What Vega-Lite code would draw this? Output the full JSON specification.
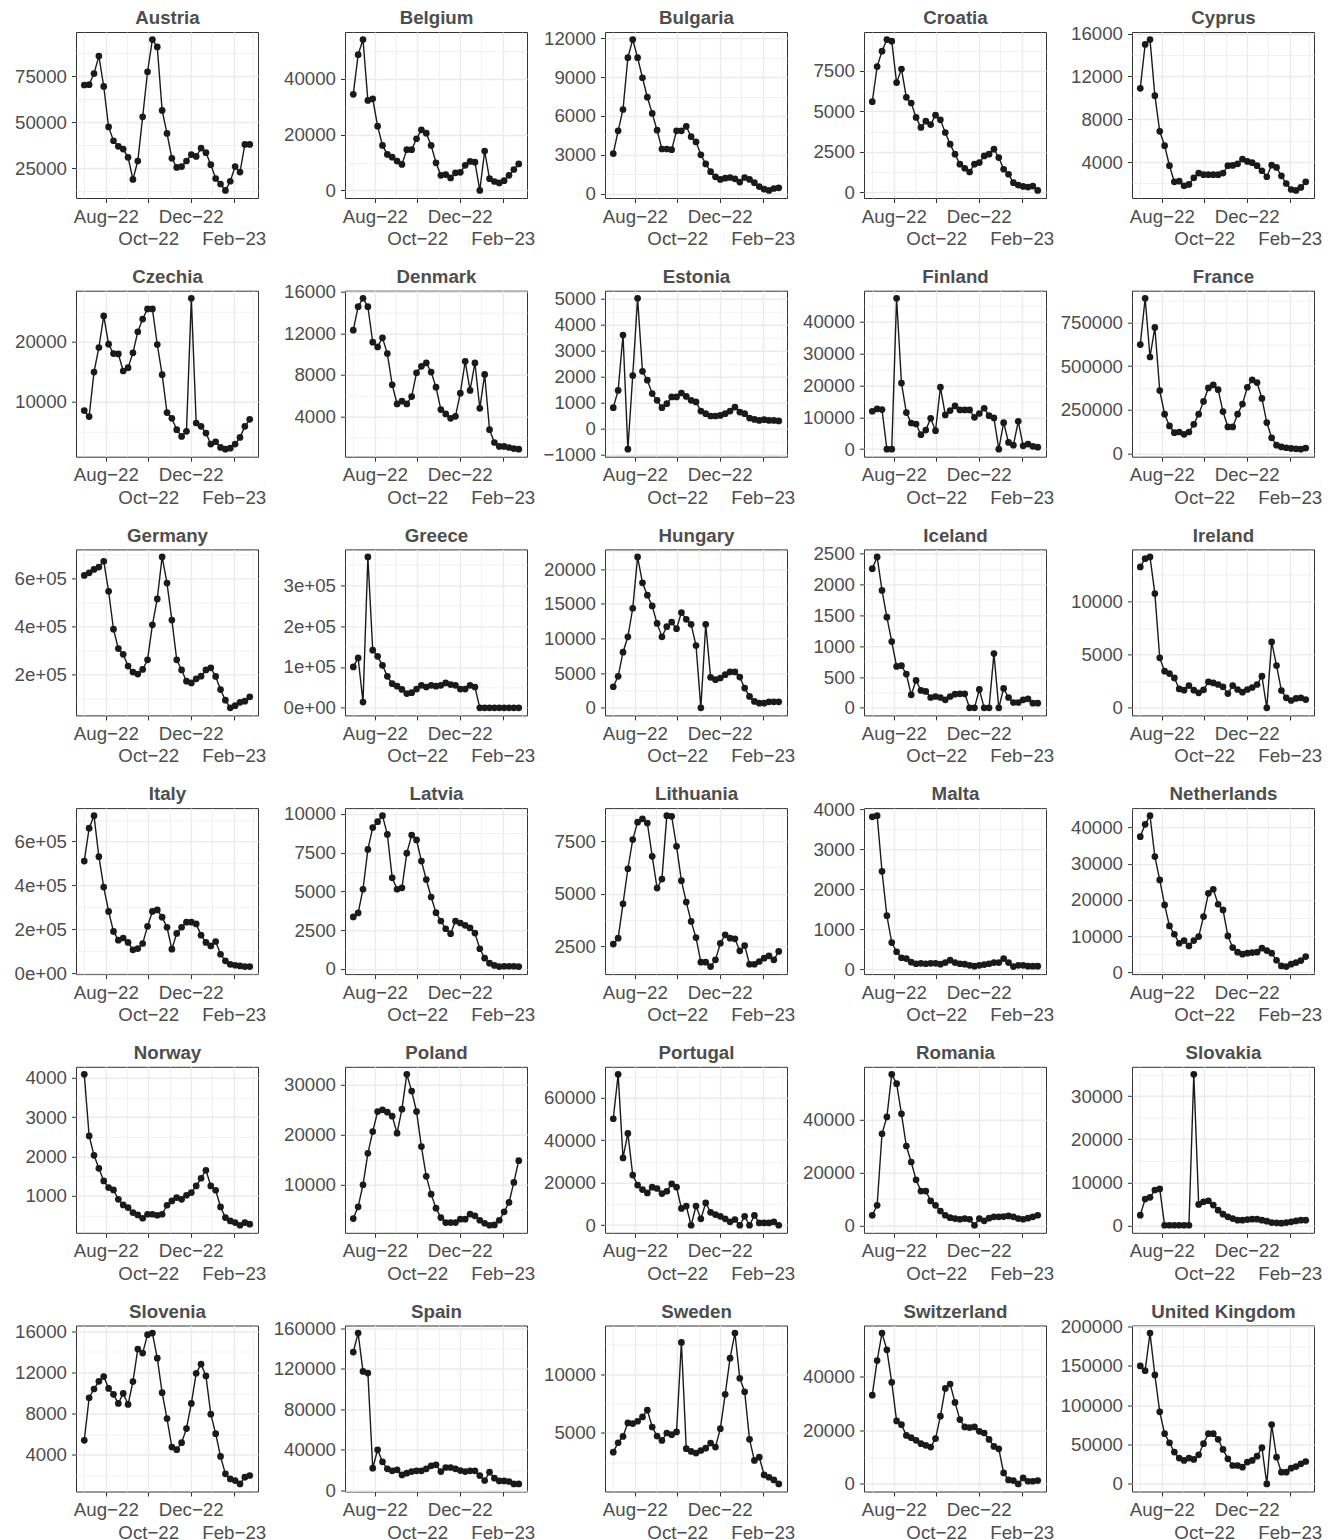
{
"$schema": "https://vega.github.io/schema/vega-lite/v6.json",
"background": "white",
"padding": {"left": 12, "top": 8, "right": 5, "bottom": 0},
"columns": 5,
"align": "each",
"bounds": "full",
"spacing": {"row": 17.7, "column": 3},
"config": {
 "view": {"continuousWidth": 182, "continuousHeight": 166, "stroke": "#333333", "strokeWidth": 1},
 "line": {"color": "#1a1a1a", "strokeWidth": 1.4},
 "point": {"filled": true, "size": 45, "color": "#1a1a1a", "opacity": 1},
 "axis": {"labelFont": "Liberation Sans", "labelFontSize": 18.7, "labelColor": "#4d4d4d", "tickColor": "#333333", "tickSize": 4.5, "domain": false, "gridColor": "#ebebeb", "labelOverlap": false, "labelFlush": false, "labelBound": false},
 "axisY": {"labelPadding": 5},
 "axisTop": {"labels": false, "ticks": false, "domain": false, "grid": false, "minExtent": 0, "maxExtent": 0, "titlePadding": 8.3, "titleBaseline": "alphabetic", "titleFont": "Liberation Sans", "titleFontSize": 18.7, "titleFontWeight": "bold", "titleColor": "#4d4d4d"}
},
"concat": [
{"data":{"values":[{"d":"2022-07-01","v":70300},{"d":"2022-07-08","v":70500},{"d":"2022-07-15","v":76500},{"d":"2022-07-22","v":86000},{"d":"2022-07-29","v":69500},{"d":"2022-08-05","v":47500},{"d":"2022-08-12","v":40000},{"d":"2022-08-19","v":37000},{"d":"2022-08-26","v":35500},{"d":"2022-09-02","v":31000},{"d":"2022-09-09","v":19000},{"d":"2022-09-16","v":29000},{"d":"2022-09-23","v":53000},{"d":"2022-09-30","v":77500},{"d":"2022-10-07","v":95000},{"d":"2022-10-14","v":91000},{"d":"2022-10-21","v":56500},{"d":"2022-10-28","v":44000},{"d":"2022-11-04","v":30500},{"d":"2022-11-11","v":25500},{"d":"2022-11-18","v":26000},{"d":"2022-11-25","v":29000},{"d":"2022-12-02","v":32500},{"d":"2022-12-09","v":31500},{"d":"2022-12-16","v":36000},{"d":"2022-12-23","v":33500},{"d":"2022-12-30","v":27000},{"d":"2023-01-06","v":19500},{"d":"2023-01-13","v":16500},{"d":"2023-01-20","v":13000},{"d":"2023-01-27","v":18000},{"d":"2023-02-03","v":26000},{"d":"2023-02-10","v":23000},{"d":"2023-02-17","v":38000},{"d":"2023-02-24","v":38000}]},
 "encoding":{"y":{"field":"v","type":"quantitative","title":null,"scale":{"zero":false,"nice":false,"padding":7.55},"axis":{"minExtent":63,"maxExtent":63,"values":[12500,25000,37500,50000,62500,75000,87500],"labelExpr":"datum.value%25000!=0?'':format(datum.value,'d')","tickOpacity":{"condition":{"test":"datum.value%25000!=0","value":0},"value":1},"gridWidth":{"condition":{"test":"datum.value%25000!=0","value":0.7},"value":1.4}}}},
 "layer":[{"mark":"line","encoding":{"x":{"field":"d","type":"temporal","title":null,"scale":{"type":"utc","domain":[1655605440000,1678224960000]},"axis":{"orient":"bottom","values":[1656633600000,1659312000000,1661990400000,1664582400000,1667260800000,1669852800000,1672531200000,1675209600000,1677628800000],"labelExpr":"utcmonth(datum.value)%2==0?'':utcFormat(datum.value,'%b')+'−'+utcFormat(datum.value,'%y')","tickOpacity":{"condition":{"test":"utcmonth(datum.value)%2==0","value":0},"value":1},"gridWidth":{"condition":{"test":"utcmonth(datum.value)%2==0","value":0.7},"value":1.4},"labelPadding":{"condition":{"test":"utcmonth(datum.value)==9||utcmonth(datum.value)==1","value":27},"value":4.6}}}}},
  {"mark":"point","encoding":{"x":{"field":"d","type":"temporal","title":"Austria","scale":{"type":"utc","domain":[1655605440000,1678224960000]},"axis":{"orient":"top","grid":false}}}}],
 "resolve":{"axis":{"x":"independent"}}},
{"data":{"values":[{"d":"2022-07-01","v":34400},{"d":"2022-07-08","v":48600},{"d":"2022-07-15","v":54000},{"d":"2022-07-22","v":32200},{"d":"2022-07-29","v":32800},{"d":"2022-08-05","v":23000},{"d":"2022-08-12","v":16100},{"d":"2022-08-19","v":12900},{"d":"2022-08-26","v":11900},{"d":"2022-09-02","v":10500},{"d":"2022-09-09","v":9300},{"d":"2022-09-16","v":14600},{"d":"2022-09-23","v":14600},{"d":"2022-09-30","v":18500},{"d":"2022-10-07","v":21700},{"d":"2022-10-14","v":20500},{"d":"2022-10-21","v":16100},{"d":"2022-10-28","v":9900},{"d":"2022-11-04","v":5400},{"d":"2022-11-11","v":5700},{"d":"2022-11-18","v":4500},{"d":"2022-11-25","v":6300},{"d":"2022-12-02","v":6500},{"d":"2022-12-09","v":9000},{"d":"2022-12-16","v":10400},{"d":"2022-12-23","v":10100},{"d":"2022-12-30","v":0},{"d":"2023-01-06","v":14100},{"d":"2023-01-13","v":4200},{"d":"2023-01-20","v":3200},{"d":"2023-01-27","v":2700},{"d":"2023-02-03","v":3500},{"d":"2023-02-10","v":5400},{"d":"2023-02-17","v":7500},{"d":"2023-02-24","v":9500}]},
 "encoding":{"y":{"field":"v","type":"quantitative","title":null,"scale":{"zero":false,"nice":false,"padding":7.55},"axis":{"minExtent":74,"maxExtent":74,"values":[0,10000,20000,30000,40000,50000],"labelExpr":"datum.value%20000!=0?'':format(datum.value,'d')","tickOpacity":{"condition":{"test":"datum.value%20000!=0","value":0},"value":1},"gridWidth":{"condition":{"test":"datum.value%20000!=0","value":0.7},"value":1.4}}}},
 "layer":[{"mark":"line","encoding":{"x":{"field":"d","type":"temporal","title":null,"scale":{"type":"utc","domain":[1655605440000,1678224960000]},"axis":{"orient":"bottom","values":[1656633600000,1659312000000,1661990400000,1664582400000,1667260800000,1669852800000,1672531200000,1675209600000,1677628800000],"labelExpr":"utcmonth(datum.value)%2==0?'':utcFormat(datum.value,'%b')+'−'+utcFormat(datum.value,'%y')","tickOpacity":{"condition":{"test":"utcmonth(datum.value)%2==0","value":0},"value":1},"gridWidth":{"condition":{"test":"utcmonth(datum.value)%2==0","value":0.7},"value":1.4},"labelPadding":{"condition":{"test":"utcmonth(datum.value)==9||utcmonth(datum.value)==1","value":27},"value":4.6}}}}},
  {"mark":"point","encoding":{"x":{"field":"d","type":"temporal","title":"Belgium","scale":{"type":"utc","domain":[1655605440000,1678224960000]},"axis":{"orient":"top","grid":false}}}}],
 "resolve":{"axis":{"x":"independent"}}},
{"data":{"values":[{"d":"2022-07-01","v":3100},{"d":"2022-07-08","v":4850},{"d":"2022-07-15","v":6500},{"d":"2022-07-22","v":10500},{"d":"2022-07-29","v":11900},{"d":"2022-08-05","v":10500},{"d":"2022-08-12","v":8950},{"d":"2022-08-19","v":7450},{"d":"2022-08-26","v":6200},{"d":"2022-09-02","v":4900},{"d":"2022-09-09","v":3450},{"d":"2022-09-16","v":3450},{"d":"2022-09-23","v":3400},{"d":"2022-09-30","v":4850},{"d":"2022-10-07","v":4850},{"d":"2022-10-14","v":5200},{"d":"2022-10-21","v":4400},{"d":"2022-10-28","v":4000},{"d":"2022-11-04","v":3000},{"d":"2022-11-11","v":2300},{"d":"2022-11-18","v":1700},{"d":"2022-11-25","v":1300},{"d":"2022-12-02","v":1100},{"d":"2022-12-09","v":1200},{"d":"2022-12-16","v":1250},{"d":"2022-12-23","v":1150},{"d":"2022-12-30","v":900},{"d":"2023-01-06","v":1250},{"d":"2023-01-13","v":1100},{"d":"2023-01-20","v":850},{"d":"2023-01-27","v":550},{"d":"2023-02-03","v":350},{"d":"2023-02-10","v":250},{"d":"2023-02-17","v":400},{"d":"2023-02-24","v":450}]},
 "encoding":{"y":{"field":"v","type":"quantitative","title":null,"scale":{"zero":false,"nice":false,"padding":7.55},"axis":{"minExtent":65,"maxExtent":65,"values":[0,1500,3000,4500,6000,7500,9000,10500,12000],"labelExpr":"datum.value%3000!=0?'':format(datum.value,'d')","tickOpacity":{"condition":{"test":"datum.value%3000!=0","value":0},"value":1},"gridWidth":{"condition":{"test":"datum.value%3000!=0","value":0.7},"value":1.4}}}},
 "layer":[{"mark":"line","encoding":{"x":{"field":"d","type":"temporal","title":null,"scale":{"type":"utc","domain":[1655605440000,1678224960000]},"axis":{"orient":"bottom","values":[1656633600000,1659312000000,1661990400000,1664582400000,1667260800000,1669852800000,1672531200000,1675209600000,1677628800000],"labelExpr":"utcmonth(datum.value)%2==0?'':utcFormat(datum.value,'%b')+'−'+utcFormat(datum.value,'%y')","tickOpacity":{"condition":{"test":"utcmonth(datum.value)%2==0","value":0},"value":1},"gridWidth":{"condition":{"test":"utcmonth(datum.value)%2==0","value":0.7},"value":1.4},"labelPadding":{"condition":{"test":"utcmonth(datum.value)==9||utcmonth(datum.value)==1","value":27},"value":4.6}}}}},
  {"mark":"point","encoding":{"x":{"field":"d","type":"temporal","title":"Bulgaria","scale":{"type":"utc","domain":[1655605440000,1678224960000]},"axis":{"orient":"top","grid":false}}}}],
 "resolve":{"axis":{"x":"independent"}}},
{"data":{"values":[{"d":"2022-07-01","v":5600},{"d":"2022-07-08","v":7770},{"d":"2022-07-15","v":8720},{"d":"2022-07-22","v":9440},{"d":"2022-07-29","v":9340},{"d":"2022-08-05","v":6780},{"d":"2022-08-12","v":7620},{"d":"2022-08-19","v":5870},{"d":"2022-08-26","v":5520},{"d":"2022-09-02","v":4630},{"d":"2022-09-09","v":4010},{"d":"2022-09-16","v":4400},{"d":"2022-09-23","v":4190},{"d":"2022-09-30","v":4770},{"d":"2022-10-07","v":4480},{"d":"2022-10-14","v":3700},{"d":"2022-10-21","v":2980},{"d":"2022-10-28","v":2360},{"d":"2022-11-04","v":1740},{"d":"2022-11-11","v":1490},{"d":"2022-11-18","v":1260},{"d":"2022-11-25","v":1740},{"d":"2022-12-02","v":1840},{"d":"2022-12-09","v":2250},{"d":"2022-12-16","v":2360},{"d":"2022-12-23","v":2670},{"d":"2022-12-30","v":2150},{"d":"2023-01-06","v":1430},{"d":"2023-01-13","v":1120},{"d":"2023-01-20","v":600},{"d":"2023-01-27","v":450},{"d":"2023-02-03","v":370},{"d":"2023-02-10","v":330},{"d":"2023-02-17","v":390},{"d":"2023-02-24","v":120}]},
 "encoding":{"y":{"field":"v","type":"quantitative","title":null,"scale":{"zero":false,"nice":false,"padding":7.55},"axis":{"minExtent":64,"maxExtent":64,"values":[0,1250,2500,3750,5000,6250,7500,8750],"labelExpr":"datum.value%2500!=0?'':format(datum.value,'d')","tickOpacity":{"condition":{"test":"datum.value%2500!=0","value":0},"value":1},"gridWidth":{"condition":{"test":"datum.value%2500!=0","value":0.7},"value":1.4}}}},
 "layer":[{"mark":"line","encoding":{"x":{"field":"d","type":"temporal","title":null,"scale":{"type":"utc","domain":[1655605440000,1678224960000]},"axis":{"orient":"bottom","values":[1656633600000,1659312000000,1661990400000,1664582400000,1667260800000,1669852800000,1672531200000,1675209600000,1677628800000],"labelExpr":"utcmonth(datum.value)%2==0?'':utcFormat(datum.value,'%b')+'−'+utcFormat(datum.value,'%y')","tickOpacity":{"condition":{"test":"utcmonth(datum.value)%2==0","value":0},"value":1},"gridWidth":{"condition":{"test":"utcmonth(datum.value)%2==0","value":0.7},"value":1.4},"labelPadding":{"condition":{"test":"utcmonth(datum.value)==9||utcmonth(datum.value)==1","value":27},"value":4.6}}}}},
  {"mark":"point","encoding":{"x":{"field":"d","type":"temporal","title":"Croatia","scale":{"type":"utc","domain":[1655605440000,1678224960000]},"axis":{"orient":"top","grid":false}}}}],
 "resolve":{"axis":{"x":"independent"}}},
{"data":{"values":[{"d":"2022-07-01","v":10890},{"d":"2022-07-08","v":14980},{"d":"2022-07-15","v":15440},{"d":"2022-07-22","v":10200},{"d":"2022-07-29","v":6870},{"d":"2022-08-05","v":5530},{"d":"2022-08-12","v":3660},{"d":"2022-08-19","v":2160},{"d":"2022-08-26","v":2220},{"d":"2022-09-02","v":1790},{"d":"2022-09-09","v":1910},{"d":"2022-09-16","v":2530},{"d":"2022-09-23","v":2970},{"d":"2022-09-30","v":2820},{"d":"2022-10-07","v":2820},{"d":"2022-10-14","v":2820},{"d":"2022-10-21","v":2820},{"d":"2022-10-28","v":2970},{"d":"2022-11-04","v":3660},{"d":"2022-11-11","v":3690},{"d":"2022-11-18","v":3840},{"d":"2022-11-25","v":4280},{"d":"2022-12-02","v":4060},{"d":"2022-12-09","v":3940},{"d":"2022-12-16","v":3660},{"d":"2022-12-23","v":3190},{"d":"2022-12-30","v":2630},{"d":"2023-01-06","v":3720},{"d":"2023-01-13","v":3500},{"d":"2023-01-20","v":2720},{"d":"2023-01-27","v":2000},{"d":"2023-02-03","v":1440},{"d":"2023-02-10","v":1350},{"d":"2023-02-17","v":1630},{"d":"2023-02-24","v":2160}]},
 "encoding":{"y":{"field":"v","type":"quantitative","title":null,"scale":{"zero":false,"nice":false,"padding":7.55},"axis":{"minExtent":73,"maxExtent":73,"values":[2000,4000,6000,8000,10000,12000,14000,16000],"labelExpr":"datum.value%4000!=0?'':format(datum.value,'d')","tickOpacity":{"condition":{"test":"datum.value%4000!=0","value":0},"value":1},"gridWidth":{"condition":{"test":"datum.value%4000!=0","value":0.7},"value":1.4}}}},
 "layer":[{"mark":"line","encoding":{"x":{"field":"d","type":"temporal","title":null,"scale":{"type":"utc","domain":[1655605440000,1678224960000]},"axis":{"orient":"bottom","values":[1656633600000,1659312000000,1661990400000,1664582400000,1667260800000,1669852800000,1672531200000,1675209600000,1677628800000],"labelExpr":"utcmonth(datum.value)%2==0?'':utcFormat(datum.value,'%b')+'−'+utcFormat(datum.value,'%y')","tickOpacity":{"condition":{"test":"utcmonth(datum.value)%2==0","value":0},"value":1},"gridWidth":{"condition":{"test":"utcmonth(datum.value)%2==0","value":0.7},"value":1.4},"labelPadding":{"condition":{"test":"utcmonth(datum.value)==9||utcmonth(datum.value)==1","value":27},"value":4.6}}}}},
  {"mark":"point","encoding":{"x":{"field":"d","type":"temporal","title":"Cyprus","scale":{"type":"utc","domain":[1655605440000,1678224960000]},"axis":{"orient":"top","grid":false}}}}],
 "resolve":{"axis":{"x":"independent"}}},
{"data":{"values":[{"d":"2022-07-01","v":8480},{"d":"2022-07-08","v":7470},{"d":"2022-07-15","v":14940},{"d":"2022-07-22","v":19050},{"d":"2022-07-29","v":24330},{"d":"2022-08-05","v":19600},{"d":"2022-08-12","v":18030},{"d":"2022-08-19","v":17980},{"d":"2022-08-26","v":15110},{"d":"2022-09-02","v":15670},{"d":"2022-09-09","v":18150},{"d":"2022-09-16","v":21690},{"d":"2022-09-23","v":23820},{"d":"2022-09-30","v":25510},{"d":"2022-10-07","v":25510},{"d":"2022-10-14","v":19550},{"d":"2022-10-21","v":14490},{"d":"2022-10-28","v":8150},{"d":"2022-11-04","v":7190},{"d":"2022-11-11","v":5280},{"d":"2022-11-18","v":4160},{"d":"2022-11-25","v":5000},{"d":"2022-12-02","v":27300},{"d":"2022-12-09","v":6400},{"d":"2022-12-16","v":5840},{"d":"2022-12-23","v":4720},{"d":"2022-12-30","v":2870},{"d":"2023-01-06","v":3260},{"d":"2023-01-13","v":2300},{"d":"2023-01-20","v":2020},{"d":"2023-01-27","v":2190},{"d":"2023-02-03","v":2870},{"d":"2023-02-10","v":3990},{"d":"2023-02-17","v":5840},{"d":"2023-02-24","v":7020}]},
 "encoding":{"y":{"field":"v","type":"quantitative","title":null,"scale":{"zero":false,"nice":false,"padding":7.55},"axis":{"minExtent":63,"maxExtent":63,"values":[5000,10000,15000,20000,25000],"labelExpr":"datum.value%10000!=0?'':format(datum.value,'d')","tickOpacity":{"condition":{"test":"datum.value%10000!=0","value":0},"value":1},"gridWidth":{"condition":{"test":"datum.value%10000!=0","value":0.7},"value":1.4}}}},
 "layer":[{"mark":"line","encoding":{"x":{"field":"d","type":"temporal","title":null,"scale":{"type":"utc","domain":[1655605440000,1678224960000]},"axis":{"orient":"bottom","values":[1656633600000,1659312000000,1661990400000,1664582400000,1667260800000,1669852800000,1672531200000,1675209600000,1677628800000],"labelExpr":"utcmonth(datum.value)%2==0?'':utcFormat(datum.value,'%b')+'−'+utcFormat(datum.value,'%y')","tickOpacity":{"condition":{"test":"utcmonth(datum.value)%2==0","value":0},"value":1},"gridWidth":{"condition":{"test":"utcmonth(datum.value)%2==0","value":0.7},"value":1.4},"labelPadding":{"condition":{"test":"utcmonth(datum.value)==9||utcmonth(datum.value)==1","value":27},"value":4.6}}}}},
  {"mark":"point","encoding":{"x":{"field":"d","type":"temporal","title":"Czechia","scale":{"type":"utc","domain":[1655605440000,1678224960000]},"axis":{"orient":"top","grid":false}}}}],
 "resolve":{"axis":{"x":"independent"}}},
{"data":{"values":[{"d":"2022-07-01","v":12300},{"d":"2022-07-08","v":14550},{"d":"2022-07-15","v":15360},{"d":"2022-07-22","v":14550},{"d":"2022-07-29","v":11140},{"d":"2022-08-05","v":10690},{"d":"2022-08-12","v":11560},{"d":"2022-08-19","v":10050},{"d":"2022-08-26","v":7060},{"d":"2022-09-02","v":5220},{"d":"2022-09-09","v":5480},{"d":"2022-09-16","v":5220},{"d":"2022-09-23","v":5930},{"d":"2022-09-30","v":8210},{"d":"2022-10-07","v":8830},{"d":"2022-10-14","v":9150},{"d":"2022-10-21","v":8280},{"d":"2022-10-28","v":6830},{"d":"2022-11-04","v":4680},{"d":"2022-11-11","v":4260},{"d":"2022-11-18","v":3840},{"d":"2022-11-25","v":4030},{"d":"2022-12-02","v":6250},{"d":"2022-12-09","v":9310},{"d":"2022-12-16","v":6510},{"d":"2022-12-23","v":9150},{"d":"2022-12-30","v":4800},{"d":"2023-01-06","v":8050},{"d":"2023-01-13","v":2750},{"d":"2023-01-20","v":1520},{"d":"2023-01-27","v":1140},{"d":"2023-02-03","v":1140},{"d":"2023-02-10","v":1040},{"d":"2023-02-17","v":940},{"d":"2023-02-24","v":880}]},
 "encoding":{"y":{"field":"v","type":"quantitative","title":null,"scale":{"zero":false,"nice":false,"padding":7.55},"axis":{"minExtent":74,"maxExtent":74,"values":[2000,4000,6000,8000,10000,12000,14000,16000],"labelExpr":"datum.value%4000!=0?'':format(datum.value,'d')","tickOpacity":{"condition":{"test":"datum.value%4000!=0","value":0},"value":1},"gridWidth":{"condition":{"test":"datum.value%4000!=0","value":0.7},"value":1.4}}}},
 "layer":[{"mark":"line","encoding":{"x":{"field":"d","type":"temporal","title":null,"scale":{"type":"utc","domain":[1655605440000,1678224960000]},"axis":{"orient":"bottom","values":[1656633600000,1659312000000,1661990400000,1664582400000,1667260800000,1669852800000,1672531200000,1675209600000,1677628800000],"labelExpr":"utcmonth(datum.value)%2==0?'':utcFormat(datum.value,'%b')+'−'+utcFormat(datum.value,'%y')","tickOpacity":{"condition":{"test":"utcmonth(datum.value)%2==0","value":0},"value":1},"gridWidth":{"condition":{"test":"utcmonth(datum.value)%2==0","value":0.7},"value":1.4},"labelPadding":{"condition":{"test":"utcmonth(datum.value)==9||utcmonth(datum.value)==1","value":27},"value":4.6}}}}},
  {"mark":"point","encoding":{"x":{"field":"d","type":"temporal","title":"Denmark","scale":{"type":"utc","domain":[1655605440000,1678224960000]},"axis":{"orient":"top","grid":false}}}}],
 "resolve":{"axis":{"x":"independent"}}},
{"data":{"values":[{"d":"2022-07-01","v":810},{"d":"2022-07-08","v":1470},{"d":"2022-07-15","v":3590},{"d":"2022-07-22","v":-780},{"d":"2022-07-29","v":2040},{"d":"2022-08-05","v":5000},{"d":"2022-08-12","v":2200},{"d":"2022-08-19","v":1860},{"d":"2022-08-26","v":1350},{"d":"2022-09-02","v":1090},{"d":"2022-09-09","v":810},{"d":"2022-09-16","v":960},{"d":"2022-09-23","v":1220},{"d":"2022-09-30","v":1220},{"d":"2022-10-07","v":1370},{"d":"2022-10-14","v":1240},{"d":"2022-10-21","v":1090},{"d":"2022-10-28","v":1030},{"d":"2022-11-04","v":680},{"d":"2022-11-11","v":580},{"d":"2022-11-18","v":490},{"d":"2022-11-25","v":490},{"d":"2022-12-02","v":510},{"d":"2022-12-09","v":580},{"d":"2022-12-16","v":680},{"d":"2022-12-23","v":830},{"d":"2022-12-30","v":640},{"d":"2023-01-06","v":580},{"d":"2023-01-13","v":410},{"d":"2023-01-20","v":360},{"d":"2023-01-27","v":320},{"d":"2023-02-03","v":350},{"d":"2023-02-10","v":320},{"d":"2023-02-17","v":320},{"d":"2023-02-24","v":300}]},
 "encoding":{"y":{"field":"v","type":"quantitative","title":null,"scale":{"zero":false,"nice":false,"padding":7.55},"axis":{"minExtent":65,"maxExtent":65,"values":[-1000,-500,0,500,1000,1500,2000,2500,3000,3500,4000,4500,5000],"labelExpr":"datum.value%1000!=0?'':format(datum.value,'d')","tickOpacity":{"condition":{"test":"datum.value%1000!=0","value":0},"value":1},"gridWidth":{"condition":{"test":"datum.value%1000!=0","value":0.7},"value":1.4}}}},
 "layer":[{"mark":"line","encoding":{"x":{"field":"d","type":"temporal","title":null,"scale":{"type":"utc","domain":[1655605440000,1678224960000]},"axis":{"orient":"bottom","values":[1656633600000,1659312000000,1661990400000,1664582400000,1667260800000,1669852800000,1672531200000,1675209600000,1677628800000],"labelExpr":"utcmonth(datum.value)%2==0?'':utcFormat(datum.value,'%b')+'−'+utcFormat(datum.value,'%y')","tickOpacity":{"condition":{"test":"utcmonth(datum.value)%2==0","value":0},"value":1},"gridWidth":{"condition":{"test":"utcmonth(datum.value)%2==0","value":0.7},"value":1.4},"labelPadding":{"condition":{"test":"utcmonth(datum.value)==9||utcmonth(datum.value)==1","value":27},"value":4.6}}}}},
  {"mark":"point","encoding":{"x":{"field":"d","type":"temporal","title":"Estonia","scale":{"type":"utc","domain":[1655605440000,1678224960000]},"axis":{"orient":"top","grid":false}}}}],
 "resolve":{"axis":{"x":"independent"}}},
{"data":{"values":[{"d":"2022-07-01","v":11900},{"d":"2022-07-08","v":12640},{"d":"2022-07-15","v":12430},{"d":"2022-07-22","v":0},{"d":"2022-07-29","v":0},{"d":"2022-08-05","v":47400},{"d":"2022-08-12","v":20740},{"d":"2022-08-19","v":11480},{"d":"2022-08-26","v":8210},{"d":"2022-09-02","v":7900},{"d":"2022-09-09","v":4530},{"d":"2022-09-16","v":6000},{"d":"2022-09-23","v":9690},{"d":"2022-09-30","v":5790},{"d":"2022-10-07","v":19480},{"d":"2022-10-14","v":10740},{"d":"2022-10-21","v":12110},{"d":"2022-10-28","v":13580},{"d":"2022-11-04","v":12320},{"d":"2022-11-11","v":12320},{"d":"2022-11-18","v":12320},{"d":"2022-11-25","v":10000},{"d":"2022-12-02","v":11200},{"d":"2022-12-09","v":12850},{"d":"2022-12-16","v":10500},{"d":"2022-12-23","v":9800},{"d":"2022-12-30","v":0},{"d":"2023-01-06","v":8320},{"d":"2023-01-13","v":2110},{"d":"2023-01-20","v":1260},{"d":"2023-01-27","v":8740},{"d":"2023-02-03","v":1050},{"d":"2023-02-10","v":1580},{"d":"2023-02-17","v":900},{"d":"2023-02-24","v":630}]},
 "encoding":{"y":{"field":"v","type":"quantitative","title":null,"scale":{"zero":false,"nice":false,"padding":7.55},"axis":{"minExtent":64,"maxExtent":64,"values":[0,5000,10000,15000,20000,25000,30000,35000,40000,45000],"labelExpr":"datum.value%10000!=0?'':format(datum.value,'d')","tickOpacity":{"condition":{"test":"datum.value%10000!=0","value":0},"value":1},"gridWidth":{"condition":{"test":"datum.value%10000!=0","value":0.7},"value":1.4}}}},
 "layer":[{"mark":"line","encoding":{"x":{"field":"d","type":"temporal","title":null,"scale":{"type":"utc","domain":[1655605440000,1678224960000]},"axis":{"orient":"bottom","values":[1656633600000,1659312000000,1661990400000,1664582400000,1667260800000,1669852800000,1672531200000,1675209600000,1677628800000],"labelExpr":"utcmonth(datum.value)%2==0?'':utcFormat(datum.value,'%b')+'−'+utcFormat(datum.value,'%y')","tickOpacity":{"condition":{"test":"utcmonth(datum.value)%2==0","value":0},"value":1},"gridWidth":{"condition":{"test":"utcmonth(datum.value)%2==0","value":0.7},"value":1.4},"labelPadding":{"condition":{"test":"utcmonth(datum.value)==9||utcmonth(datum.value)==1","value":27},"value":4.6}}}}},
  {"mark":"point","encoding":{"x":{"field":"d","type":"temporal","title":"Finland","scale":{"type":"utc","domain":[1655605440000,1678224960000]},"axis":{"orient":"top","grid":false}}}}],
 "resolve":{"axis":{"x":"independent"}}},
{"data":{"values":[{"d":"2022-07-01","v":623000},{"d":"2022-07-08","v":888000},{"d":"2022-07-15","v":552000},{"d":"2022-07-22","v":721000},{"d":"2022-07-29","v":360000},{"d":"2022-08-05","v":225000},{"d":"2022-08-12","v":158000},{"d":"2022-08-19","v":119000},{"d":"2022-08-26","v":123000},{"d":"2022-09-02","v":110000},{"d":"2022-09-09","v":123000},{"d":"2022-09-16","v":167000},{"d":"2022-09-23","v":225000},{"d":"2022-09-30","v":298000},{"d":"2022-10-07","v":375000},{"d":"2022-10-14","v":392000},{"d":"2022-10-21","v":365000},{"d":"2022-10-28","v":240000},{"d":"2022-11-04","v":152000},{"d":"2022-11-11","v":152000},{"d":"2022-11-18","v":225000},{"d":"2022-11-25","v":283000},{"d":"2022-12-02","v":379000},{"d":"2022-12-09","v":421000},{"d":"2022-12-16","v":406000},{"d":"2022-12-23","v":315000},{"d":"2022-12-30","v":177000},{"d":"2023-01-06","v":90000},{"d":"2023-01-13","v":48000},{"d":"2023-01-20","v":38000},{"d":"2023-01-27","v":33000},{"d":"2023-02-03","v":29000},{"d":"2023-02-10","v":27000},{"d":"2023-02-17","v":25000},{"d":"2023-02-24","v":31000}]},
 "encoding":{"y":{"field":"v","type":"quantitative","title":null,"scale":{"zero":false,"nice":false,"padding":7.55},"axis":{"minExtent":73,"maxExtent":73,"values":[0,125000,250000,375000,500000,625000,750000,875000],"labelExpr":"datum.value%250000!=0?'':format(datum.value,'d')","tickOpacity":{"condition":{"test":"datum.value%250000!=0","value":0},"value":1},"gridWidth":{"condition":{"test":"datum.value%250000!=0","value":0.7},"value":1.4}}}},
 "layer":[{"mark":"line","encoding":{"x":{"field":"d","type":"temporal","title":null,"scale":{"type":"utc","domain":[1655605440000,1678224960000]},"axis":{"orient":"bottom","values":[1656633600000,1659312000000,1661990400000,1664582400000,1667260800000,1669852800000,1672531200000,1675209600000,1677628800000],"labelExpr":"utcmonth(datum.value)%2==0?'':utcFormat(datum.value,'%b')+'−'+utcFormat(datum.value,'%y')","tickOpacity":{"condition":{"test":"utcmonth(datum.value)%2==0","value":0},"value":1},"gridWidth":{"condition":{"test":"utcmonth(datum.value)%2==0","value":0.7},"value":1.4},"labelPadding":{"condition":{"test":"utcmonth(datum.value)==9||utcmonth(datum.value)==1","value":27},"value":4.6}}}}},
  {"mark":"point","encoding":{"x":{"field":"d","type":"temporal","title":"France","scale":{"type":"utc","domain":[1655605440000,1678224960000]},"axis":{"orient":"top","grid":false}}}}],
 "resolve":{"axis":{"x":"independent"}}},
{"data":{"values":[{"d":"2022-07-01","v":614000},{"d":"2022-07-08","v":625000},{"d":"2022-07-15","v":639000},{"d":"2022-07-22","v":649000},{"d":"2022-07-29","v":673000},{"d":"2022-08-05","v":548000},{"d":"2022-08-12","v":390000},{"d":"2022-08-19","v":309000},{"d":"2022-08-26","v":285000},{"d":"2022-09-02","v":236000},{"d":"2022-09-09","v":211000},{"d":"2022-09-16","v":203000},{"d":"2022-09-23","v":222000},{"d":"2022-09-30","v":262000},{"d":"2022-10-07","v":408000},{"d":"2022-10-14","v":516000},{"d":"2022-10-21","v":691000},{"d":"2022-10-28","v":582000},{"d":"2022-11-04","v":428000},{"d":"2022-11-11","v":262000},{"d":"2022-11-18","v":220000},{"d":"2022-11-25","v":173000},{"d":"2022-12-02","v":166000},{"d":"2022-12-09","v":183000},{"d":"2022-12-16","v":194000},{"d":"2022-12-23","v":220000},{"d":"2022-12-30","v":229000},{"d":"2023-01-06","v":193000},{"d":"2023-01-13","v":138000},{"d":"2023-01-20","v":94000},{"d":"2023-01-27","v":62000},{"d":"2023-02-03","v":71000},{"d":"2023-02-10","v":85000},{"d":"2023-02-17","v":90000},{"d":"2023-02-24","v":108000}]},
 "encoding":{"y":{"field":"v","type":"quantitative","title":null,"scale":{"zero":false,"nice":false,"padding":7.55},"axis":{"minExtent":63,"maxExtent":63,"values":[100000,200000,300000,400000,500000,600000,700000],"labelExpr":"datum.value%200000!=0?'':replace(format(datum.value,'.0e'),'e+','e+0')","tickOpacity":{"condition":{"test":"datum.value%200000!=0","value":0},"value":1},"gridWidth":{"condition":{"test":"datum.value%200000!=0","value":0.7},"value":1.4}}}},
 "layer":[{"mark":"line","encoding":{"x":{"field":"d","type":"temporal","title":null,"scale":{"type":"utc","domain":[1655605440000,1678224960000]},"axis":{"orient":"bottom","values":[1656633600000,1659312000000,1661990400000,1664582400000,1667260800000,1669852800000,1672531200000,1675209600000,1677628800000],"labelExpr":"utcmonth(datum.value)%2==0?'':utcFormat(datum.value,'%b')+'−'+utcFormat(datum.value,'%y')","tickOpacity":{"condition":{"test":"utcmonth(datum.value)%2==0","value":0},"value":1},"gridWidth":{"condition":{"test":"utcmonth(datum.value)%2==0","value":0.7},"value":1.4},"labelPadding":{"condition":{"test":"utcmonth(datum.value)==9||utcmonth(datum.value)==1","value":27},"value":4.6}}}}},
  {"mark":"point","encoding":{"x":{"field":"d","type":"temporal","title":"Germany","scale":{"type":"utc","domain":[1655605440000,1678224960000]},"axis":{"orient":"top","grid":false}}}}],
 "resolve":{"axis":{"x":"independent"}}},
{"data":{"values":[{"d":"2022-07-01","v":100000},{"d":"2022-07-08","v":122000},{"d":"2022-07-15","v":14000},{"d":"2022-07-22","v":369000},{"d":"2022-07-29","v":141000},{"d":"2022-08-05","v":126000},{"d":"2022-08-12","v":104000},{"d":"2022-08-19","v":77000},{"d":"2022-08-26","v":59000},{"d":"2022-09-02","v":53000},{"d":"2022-09-09","v":45000},{"d":"2022-09-16","v":35000},{"d":"2022-09-23","v":37000},{"d":"2022-09-30","v":46000},{"d":"2022-10-07","v":55000},{"d":"2022-10-14","v":51000},{"d":"2022-10-21","v":55000},{"d":"2022-10-28","v":53000},{"d":"2022-11-04","v":55000},{"d":"2022-11-11","v":61000},{"d":"2022-11-18","v":57000},{"d":"2022-11-25","v":55000},{"d":"2022-12-02","v":46000},{"d":"2022-12-09","v":46000},{"d":"2022-12-16","v":55000},{"d":"2022-12-23","v":51000},{"d":"2022-12-30","v":0},{"d":"2023-01-06","v":0},{"d":"2023-01-13","v":0},{"d":"2023-01-20","v":0},{"d":"2023-01-27","v":0},{"d":"2023-02-03","v":0},{"d":"2023-02-10","v":0},{"d":"2023-02-17","v":0},{"d":"2023-02-24","v":0}]},
 "encoding":{"y":{"field":"v","type":"quantitative","title":null,"scale":{"zero":false,"nice":false,"padding":7.55},"axis":{"minExtent":74,"maxExtent":74,"values":[0,50000,100000,150000,200000,250000,300000,350000],"labelExpr":"datum.value%100000!=0?'':replace(format(datum.value,'.0e'),'e+','e+0')","tickOpacity":{"condition":{"test":"datum.value%100000!=0","value":0},"value":1},"gridWidth":{"condition":{"test":"datum.value%100000!=0","value":0.7},"value":1.4}}}},
 "layer":[{"mark":"line","encoding":{"x":{"field":"d","type":"temporal","title":null,"scale":{"type":"utc","domain":[1655605440000,1678224960000]},"axis":{"orient":"bottom","values":[1656633600000,1659312000000,1661990400000,1664582400000,1667260800000,1669852800000,1672531200000,1675209600000,1677628800000],"labelExpr":"utcmonth(datum.value)%2==0?'':utcFormat(datum.value,'%b')+'−'+utcFormat(datum.value,'%y')","tickOpacity":{"condition":{"test":"utcmonth(datum.value)%2==0","value":0},"value":1},"gridWidth":{"condition":{"test":"utcmonth(datum.value)%2==0","value":0.7},"value":1.4},"labelPadding":{"condition":{"test":"utcmonth(datum.value)==9||utcmonth(datum.value)==1","value":27},"value":4.6}}}}},
  {"mark":"point","encoding":{"x":{"field":"d","type":"temporal","title":"Greece","scale":{"type":"utc","domain":[1655605440000,1678224960000]},"axis":{"orient":"top","grid":false}}}}],
 "resolve":{"axis":{"x":"independent"}}},
{"data":{"values":[{"d":"2022-07-01","v":3040},{"d":"2022-07-08","v":4540},{"d":"2022-07-15","v":8020},{"d":"2022-07-22","v":10240},{"d":"2022-07-29","v":14350},{"d":"2022-08-05","v":21740},{"d":"2022-08-12","v":18020},{"d":"2022-08-19","v":16230},{"d":"2022-08-26","v":14680},{"d":"2022-09-02","v":12170},{"d":"2022-09-09","v":10240},{"d":"2022-09-16","v":11690},{"d":"2022-09-23","v":12360},{"d":"2022-09-30","v":11400},{"d":"2022-10-07","v":13720},{"d":"2022-10-14","v":12750},{"d":"2022-10-21","v":12030},{"d":"2022-10-28","v":8980},{"d":"2022-11-04","v":0},{"d":"2022-11-11","v":12030},{"d":"2022-11-18","v":4400},{"d":"2022-11-25","v":4060},{"d":"2022-12-02","v":4300},{"d":"2022-12-09","v":4780},{"d":"2022-12-16","v":5170},{"d":"2022-12-23","v":5170},{"d":"2022-12-30","v":4440},{"d":"2023-01-06","v":2850},{"d":"2023-01-13","v":1640},{"d":"2023-01-20","v":920},{"d":"2023-01-27","v":680},{"d":"2023-02-03","v":680},{"d":"2023-02-10","v":870},{"d":"2023-02-17","v":870},{"d":"2023-02-24","v":870}]},
 "encoding":{"y":{"field":"v","type":"quantitative","title":null,"scale":{"zero":false,"nice":false,"padding":7.55},"axis":{"minExtent":65,"maxExtent":65,"values":[0,2500,5000,7500,10000,12500,15000,17500,20000,22500],"labelExpr":"datum.value%5000!=0?'':format(datum.value,'d')","tickOpacity":{"condition":{"test":"datum.value%5000!=0","value":0},"value":1},"gridWidth":{"condition":{"test":"datum.value%5000!=0","value":0.7},"value":1.4}}}},
 "layer":[{"mark":"line","encoding":{"x":{"field":"d","type":"temporal","title":null,"scale":{"type":"utc","domain":[1655605440000,1678224960000]},"axis":{"orient":"bottom","values":[1656633600000,1659312000000,1661990400000,1664582400000,1667260800000,1669852800000,1672531200000,1675209600000,1677628800000],"labelExpr":"utcmonth(datum.value)%2==0?'':utcFormat(datum.value,'%b')+'−'+utcFormat(datum.value,'%y')","tickOpacity":{"condition":{"test":"utcmonth(datum.value)%2==0","value":0},"value":1},"gridWidth":{"condition":{"test":"utcmonth(datum.value)%2==0","value":0.7},"value":1.4},"labelPadding":{"condition":{"test":"utcmonth(datum.value)==9||utcmonth(datum.value)==1","value":27},"value":4.6}}}}},
  {"mark":"point","encoding":{"x":{"field":"d","type":"temporal","title":"Hungary","scale":{"type":"utc","domain":[1655605440000,1678224960000]},"axis":{"orient":"top","grid":false}}}}],
 "resolve":{"axis":{"x":"independent"}}},
{"data":{"values":[{"d":"2022-07-01","v":2256},{"d":"2022-07-08","v":2446},{"d":"2022-07-15","v":1903},{"d":"2022-07-22","v":1470},{"d":"2022-07-29","v":1074},{"d":"2022-08-05","v":672},{"d":"2022-08-12","v":683},{"d":"2022-08-19","v":548},{"d":"2022-08-26","v":211},{"d":"2022-09-02","v":445},{"d":"2022-09-09","v":282},{"d":"2022-09-16","v":266},{"d":"2022-09-23","v":168},{"d":"2022-09-30","v":184},{"d":"2022-10-07","v":168},{"d":"2022-10-14","v":130},{"d":"2022-10-21","v":184},{"d":"2022-10-28","v":222},{"d":"2022-11-04","v":228},{"d":"2022-11-11","v":228},{"d":"2022-11-18","v":0},{"d":"2022-11-25","v":0},{"d":"2022-12-02","v":298},{"d":"2022-12-09","v":0},{"d":"2022-12-16","v":0},{"d":"2022-12-23","v":879},{"d":"2022-12-30","v":0},{"d":"2023-01-06","v":315},{"d":"2023-01-13","v":168},{"d":"2023-01-20","v":87},{"d":"2023-01-27","v":87},{"d":"2023-02-03","v":130},{"d":"2023-02-10","v":146},{"d":"2023-02-17","v":76},{"d":"2023-02-24","v":76}]},
 "encoding":{"y":{"field":"v","type":"quantitative","title":null,"scale":{"zero":false,"nice":false,"padding":7.55},"axis":{"minExtent":64,"maxExtent":64,"values":[0,250,500,750,1000,1250,1500,1750,2000,2250,2500],"labelExpr":"datum.value%500!=0?'':format(datum.value,'d')","tickOpacity":{"condition":{"test":"datum.value%500!=0","value":0},"value":1},"gridWidth":{"condition":{"test":"datum.value%500!=0","value":0.7},"value":1.4}}}},
 "layer":[{"mark":"line","encoding":{"x":{"field":"d","type":"temporal","title":null,"scale":{"type":"utc","domain":[1655605440000,1678224960000]},"axis":{"orient":"bottom","values":[1656633600000,1659312000000,1661990400000,1664582400000,1667260800000,1669852800000,1672531200000,1675209600000,1677628800000],"labelExpr":"utcmonth(datum.value)%2==0?'':utcFormat(datum.value,'%b')+'−'+utcFormat(datum.value,'%y')","tickOpacity":{"condition":{"test":"utcmonth(datum.value)%2==0","value":0},"value":1},"gridWidth":{"condition":{"test":"utcmonth(datum.value)%2==0","value":0.7},"value":1.4},"labelPadding":{"condition":{"test":"utcmonth(datum.value)==9||utcmonth(datum.value)==1","value":27},"value":4.6}}}}},
  {"mark":"point","encoding":{"x":{"field":"d","type":"temporal","title":"Iceland","scale":{"type":"utc","domain":[1655605440000,1678224960000]},"axis":{"orient":"top","grid":false}}}}],
 "resolve":{"axis":{"x":"independent"}}},
{"data":{"values":[{"d":"2022-07-01","v":13220},{"d":"2022-07-08","v":14000},{"d":"2022-07-15","v":14160},{"d":"2022-07-22","v":10720},{"d":"2022-07-29","v":4690},{"d":"2022-08-05","v":3440},{"d":"2022-08-12","v":3220},{"d":"2022-08-19","v":2810},{"d":"2022-08-26","v":1780},{"d":"2022-09-02","v":1660},{"d":"2022-09-09","v":2090},{"d":"2022-09-16","v":1660},{"d":"2022-09-23","v":1410},{"d":"2022-09-30","v":1690},{"d":"2022-10-07","v":2440},{"d":"2022-10-14","v":2340},{"d":"2022-10-21","v":2190},{"d":"2022-10-28","v":1970},{"d":"2022-11-04","v":1340},{"d":"2022-11-11","v":2090},{"d":"2022-11-18","v":1720},{"d":"2022-11-25","v":1470},{"d":"2022-12-02","v":1720},{"d":"2022-12-09","v":1910},{"d":"2022-12-16","v":2190},{"d":"2022-12-23","v":2970},{"d":"2022-12-30","v":0},{"d":"2023-01-06","v":6190},{"d":"2023-01-13","v":3970},{"d":"2023-01-20","v":1630},{"d":"2023-01-27","v":940},{"d":"2023-02-03","v":690},{"d":"2023-02-10","v":880},{"d":"2023-02-17","v":940},{"d":"2023-02-24","v":780}]},
 "encoding":{"y":{"field":"v","type":"quantitative","title":null,"scale":{"zero":false,"nice":false,"padding":7.55},"axis":{"minExtent":73,"maxExtent":73,"values":[0,2500,5000,7500,10000,12500],"labelExpr":"datum.value%5000!=0?'':format(datum.value,'d')","tickOpacity":{"condition":{"test":"datum.value%5000!=0","value":0},"value":1},"gridWidth":{"condition":{"test":"datum.value%5000!=0","value":0.7},"value":1.4}}}},
 "layer":[{"mark":"line","encoding":{"x":{"field":"d","type":"temporal","title":null,"scale":{"type":"utc","domain":[1655605440000,1678224960000]},"axis":{"orient":"bottom","values":[1656633600000,1659312000000,1661990400000,1664582400000,1667260800000,1669852800000,1672531200000,1675209600000,1677628800000],"labelExpr":"utcmonth(datum.value)%2==0?'':utcFormat(datum.value,'%b')+'−'+utcFormat(datum.value,'%y')","tickOpacity":{"condition":{"test":"utcmonth(datum.value)%2==0","value":0},"value":1},"gridWidth":{"condition":{"test":"utcmonth(datum.value)%2==0","value":0.7},"value":1.4},"labelPadding":{"condition":{"test":"utcmonth(datum.value)==9||utcmonth(datum.value)==1","value":27},"value":4.6}}}}},
  {"mark":"point","encoding":{"x":{"field":"d","type":"temporal","title":"Ireland","scale":{"type":"utc","domain":[1655605440000,1678224960000]},"axis":{"orient":"top","grid":false}}}}],
 "resolve":{"axis":{"x":"independent"}}},
{"data":{"values":[{"d":"2022-07-01","v":511000},{"d":"2022-07-08","v":661000},{"d":"2022-07-15","v":718000},{"d":"2022-07-22","v":531000},{"d":"2022-07-29","v":393000},{"d":"2022-08-05","v":282000},{"d":"2022-08-12","v":191000},{"d":"2022-08-19","v":151000},{"d":"2022-08-26","v":161000},{"d":"2022-09-02","v":141000},{"d":"2022-09-09","v":107000},{"d":"2022-09-16","v":113000},{"d":"2022-09-23","v":136000},{"d":"2022-09-30","v":214000},{"d":"2022-10-07","v":282000},{"d":"2022-10-14","v":289000},{"d":"2022-10-21","v":256000},{"d":"2022-10-28","v":210000},{"d":"2022-11-04","v":110000},{"d":"2022-11-11","v":182000},{"d":"2022-11-18","v":210000},{"d":"2022-11-25","v":233000},{"d":"2022-12-02","v":233000},{"d":"2022-12-09","v":225000},{"d":"2022-12-16","v":174000},{"d":"2022-12-23","v":141000},{"d":"2022-12-30","v":125000},{"d":"2023-01-06","v":145000},{"d":"2023-01-13","v":87000},{"d":"2023-01-20","v":57000},{"d":"2023-01-27","v":41000},{"d":"2023-02-03","v":37000},{"d":"2023-02-10","v":34000},{"d":"2023-02-17","v":31000},{"d":"2023-02-24","v":31000}]},
 "encoding":{"y":{"field":"v","type":"quantitative","title":null,"scale":{"zero":false,"nice":false,"padding":7.55},"axis":{"minExtent":63,"maxExtent":63,"values":[0,100000,200000,300000,400000,500000,600000,700000],"labelExpr":"datum.value%200000!=0?'':replace(format(datum.value,'.0e'),'e+','e+0')","tickOpacity":{"condition":{"test":"datum.value%200000!=0","value":0},"value":1},"gridWidth":{"condition":{"test":"datum.value%200000!=0","value":0.7},"value":1.4}}}},
 "layer":[{"mark":"line","encoding":{"x":{"field":"d","type":"temporal","title":null,"scale":{"type":"utc","domain":[1655605440000,1678224960000]},"axis":{"orient":"bottom","values":[1656633600000,1659312000000,1661990400000,1664582400000,1667260800000,1669852800000,1672531200000,1675209600000,1677628800000],"labelExpr":"utcmonth(datum.value)%2==0?'':utcFormat(datum.value,'%b')+'−'+utcFormat(datum.value,'%y')","tickOpacity":{"condition":{"test":"utcmonth(datum.value)%2==0","value":0},"value":1},"gridWidth":{"condition":{"test":"utcmonth(datum.value)%2==0","value":0.7},"value":1.4},"labelPadding":{"condition":{"test":"utcmonth(datum.value)==9||utcmonth(datum.value)==1","value":27},"value":4.6}}}}},
  {"mark":"point","encoding":{"x":{"field":"d","type":"temporal","title":"Italy","scale":{"type":"utc","domain":[1655605440000,1678224960000]},"axis":{"orient":"top","grid":false}}}}],
 "resolve":{"axis":{"x":"independent"}}},
{"data":{"values":[{"d":"2022-07-01","v":3350},{"d":"2022-07-08","v":3610},{"d":"2022-07-15","v":5140},{"d":"2022-07-22","v":7710},{"d":"2022-07-29","v":9120},{"d":"2022-08-05","v":9500},{"d":"2022-08-12","v":9890},{"d":"2022-08-19","v":8680},{"d":"2022-08-26","v":5880},{"d":"2022-09-02","v":5140},{"d":"2022-09-09","v":5230},{"d":"2022-09-16","v":7470},{"d":"2022-09-23","v":8640},{"d":"2022-09-30","v":8320},{"d":"2022-10-07","v":6960},{"d":"2022-10-14","v":5770},{"d":"2022-10-21","v":4640},{"d":"2022-10-28","v":3630},{"d":"2022-11-04","v":3090},{"d":"2022-11-11","v":2590},{"d":"2022-11-18","v":2270},{"d":"2022-11-25","v":3090},{"d":"2022-12-02","v":2960},{"d":"2022-12-09","v":2810},{"d":"2022-12-16","v":2640},{"d":"2022-12-23","v":2310},{"d":"2022-12-30","v":1300},{"d":"2023-01-06","v":690},{"d":"2023-01-13","v":370},{"d":"2023-01-20","v":220},{"d":"2023-01-27","v":150},{"d":"2023-02-03","v":170},{"d":"2023-02-10","v":170},{"d":"2023-02-17","v":170},{"d":"2023-02-24","v":150}]},
 "encoding":{"y":{"field":"v","type":"quantitative","title":null,"scale":{"zero":false,"nice":false,"padding":7.55},"axis":{"minExtent":74,"maxExtent":74,"values":[0,1250,2500,3750,5000,6250,7500,8750,10000],"labelExpr":"datum.value%2500!=0?'':format(datum.value,'d')","tickOpacity":{"condition":{"test":"datum.value%2500!=0","value":0},"value":1},"gridWidth":{"condition":{"test":"datum.value%2500!=0","value":0.7},"value":1.4}}}},
 "layer":[{"mark":"line","encoding":{"x":{"field":"d","type":"temporal","title":null,"scale":{"type":"utc","domain":[1655605440000,1678224960000]},"axis":{"orient":"bottom","values":[1656633600000,1659312000000,1661990400000,1664582400000,1667260800000,1669852800000,1672531200000,1675209600000,1677628800000],"labelExpr":"utcmonth(datum.value)%2==0?'':utcFormat(datum.value,'%b')+'−'+utcFormat(datum.value,'%y')","tickOpacity":{"condition":{"test":"utcmonth(datum.value)%2==0","value":0},"value":1},"gridWidth":{"condition":{"test":"utcmonth(datum.value)%2==0","value":0.7},"value":1.4},"labelPadding":{"condition":{"test":"utcmonth(datum.value)==9||utcmonth(datum.value)==1","value":27},"value":4.6}}}}},
  {"mark":"point","encoding":{"x":{"field":"d","type":"temporal","title":"Latvia","scale":{"type":"utc","domain":[1655605440000,1678224960000]},"axis":{"orient":"top","grid":false}}}}],
 "resolve":{"axis":{"x":"independent"}}},
{"data":{"values":[{"d":"2022-07-01","v":2600},{"d":"2022-07-08","v":2880},{"d":"2022-07-15","v":4520},{"d":"2022-07-22","v":6190},{"d":"2022-07-29","v":7580},{"d":"2022-08-05","v":8410},{"d":"2022-08-12","v":8570},{"d":"2022-08-19","v":8370},{"d":"2022-08-26","v":6780},{"d":"2022-09-02","v":5270},{"d":"2022-09-09","v":5700},{"d":"2022-09-16","v":8720},{"d":"2022-09-23","v":8690},{"d":"2022-09-30","v":7260},{"d":"2022-10-07","v":5620},{"d":"2022-10-14","v":4600},{"d":"2022-10-21","v":3680},{"d":"2022-10-28","v":2910},{"d":"2022-11-04","v":1740},{"d":"2022-11-11","v":1740},{"d":"2022-11-18","v":1530},{"d":"2022-11-25","v":1850},{"d":"2022-12-02","v":2640},{"d":"2022-12-09","v":3040},{"d":"2022-12-16","v":2880},{"d":"2022-12-23","v":2850},{"d":"2022-12-30","v":2280},{"d":"2023-01-06","v":2530},{"d":"2023-01-13","v":1640},{"d":"2023-01-20","v":1640},{"d":"2023-01-27","v":1770},{"d":"2023-02-03","v":1930},{"d":"2023-02-10","v":2040},{"d":"2023-02-17","v":1850},{"d":"2023-02-24","v":2250}]},
 "encoding":{"y":{"field":"v","type":"quantitative","title":null,"scale":{"zero":false,"nice":false,"padding":7.55},"axis":{"minExtent":65,"maxExtent":65,"values":[1250,2500,3750,5000,6250,7500,8750],"labelExpr":"datum.value%2500!=0?'':format(datum.value,'d')","tickOpacity":{"condition":{"test":"datum.value%2500!=0","value":0},"value":1},"gridWidth":{"condition":{"test":"datum.value%2500!=0","value":0.7},"value":1.4}}}},
 "layer":[{"mark":"line","encoding":{"x":{"field":"d","type":"temporal","title":null,"scale":{"type":"utc","domain":[1655605440000,1678224960000]},"axis":{"orient":"bottom","values":[1656633600000,1659312000000,1661990400000,1664582400000,1667260800000,1669852800000,1672531200000,1675209600000,1677628800000],"labelExpr":"utcmonth(datum.value)%2==0?'':utcFormat(datum.value,'%b')+'−'+utcFormat(datum.value,'%y')","tickOpacity":{"condition":{"test":"utcmonth(datum.value)%2==0","value":0},"value":1},"gridWidth":{"condition":{"test":"utcmonth(datum.value)%2==0","value":0.7},"value":1.4},"labelPadding":{"condition":{"test":"utcmonth(datum.value)==9||utcmonth(datum.value)==1","value":27},"value":4.6}}}}},
  {"mark":"point","encoding":{"x":{"field":"d","type":"temporal","title":"Lithuania","scale":{"type":"utc","domain":[1655605440000,1678224960000]},"axis":{"orient":"top","grid":false}}}}],
 "resolve":{"axis":{"x":"independent"}}},
{"data":{"values":[{"d":"2022-07-01","v":3810},{"d":"2022-07-08","v":3840},{"d":"2022-07-15","v":2450},{"d":"2022-07-22","v":1340},{"d":"2022-07-29","v":670},{"d":"2022-08-05","v":440},{"d":"2022-08-12","v":290},{"d":"2022-08-19","v":270},{"d":"2022-08-26","v":180},{"d":"2022-09-02","v":140},{"d":"2022-09-09","v":150},{"d":"2022-09-16","v":140},{"d":"2022-09-23","v":150},{"d":"2022-09-30","v":150},{"d":"2022-10-07","v":130},{"d":"2022-10-14","v":170},{"d":"2022-10-21","v":230},{"d":"2022-10-28","v":170},{"d":"2022-11-04","v":140},{"d":"2022-11-11","v":130},{"d":"2022-11-18","v":100},{"d":"2022-11-25","v":80},{"d":"2022-12-02","v":100},{"d":"2022-12-09","v":120},{"d":"2022-12-16","v":140},{"d":"2022-12-23","v":170},{"d":"2022-12-30","v":170},{"d":"2023-01-06","v":270},{"d":"2023-01-13","v":170},{"d":"2023-01-20","v":70},{"d":"2023-01-27","v":100},{"d":"2023-02-03","v":100},{"d":"2023-02-10","v":80},{"d":"2023-02-17","v":80},{"d":"2023-02-24","v":80}]},
 "encoding":{"y":{"field":"v","type":"quantitative","title":null,"scale":{"zero":false,"nice":false,"padding":7.55},"axis":{"minExtent":64,"maxExtent":64,"values":[0,500,1000,1500,2000,2500,3000,3500,4000],"labelExpr":"datum.value%1000!=0?'':format(datum.value,'d')","tickOpacity":{"condition":{"test":"datum.value%1000!=0","value":0},"value":1},"gridWidth":{"condition":{"test":"datum.value%1000!=0","value":0.7},"value":1.4}}}},
 "layer":[{"mark":"line","encoding":{"x":{"field":"d","type":"temporal","title":null,"scale":{"type":"utc","domain":[1655605440000,1678224960000]},"axis":{"orient":"bottom","values":[1656633600000,1659312000000,1661990400000,1664582400000,1667260800000,1669852800000,1672531200000,1675209600000,1677628800000],"labelExpr":"utcmonth(datum.value)%2==0?'':utcFormat(datum.value,'%b')+'−'+utcFormat(datum.value,'%y')","tickOpacity":{"condition":{"test":"utcmonth(datum.value)%2==0","value":0},"value":1},"gridWidth":{"condition":{"test":"utcmonth(datum.value)%2==0","value":0.7},"value":1.4},"labelPadding":{"condition":{"test":"utcmonth(datum.value)==9||utcmonth(datum.value)==1","value":27},"value":4.6}}}}},
  {"mark":"point","encoding":{"x":{"field":"d","type":"temporal","title":"Malta","scale":{"type":"utc","domain":[1655605440000,1678224960000]},"axis":{"orient":"top","grid":false}}}}],
 "resolve":{"axis":{"x":"independent"}}},
{"data":{"values":[{"d":"2022-07-01","v":37430},{"d":"2022-07-08","v":40820},{"d":"2022-07-15","v":43210},{"d":"2022-07-22","v":31930},{"d":"2022-07-29","v":25500},{"d":"2022-08-05","v":18620},{"d":"2022-08-12","v":12840},{"d":"2022-08-19","v":10550},{"d":"2022-08-26","v":8070},{"d":"2022-09-02","v":8810},{"d":"2022-09-09","v":7340},{"d":"2022-09-16","v":8810},{"d":"2022-09-23","v":9910},{"d":"2022-09-30","v":15410},{"d":"2022-10-07","v":21830},{"d":"2022-10-14","v":22940},{"d":"2022-10-21","v":18810},{"d":"2022-10-28","v":17250},{"d":"2022-11-04","v":10090},{"d":"2022-11-11","v":6880},{"d":"2022-11-18","v":5600},{"d":"2022-11-25","v":5050},{"d":"2022-12-02","v":5320},{"d":"2022-12-09","v":5500},{"d":"2022-12-16","v":5600},{"d":"2022-12-23","v":6700},{"d":"2022-12-30","v":6050},{"d":"2023-01-06","v":5320},{"d":"2023-01-13","v":3390},{"d":"2023-01-20","v":1830},{"d":"2023-01-27","v":1650},{"d":"2023-02-03","v":2290},{"d":"2023-02-10","v":2750},{"d":"2023-02-17","v":3300},{"d":"2023-02-24","v":4400}]},
 "encoding":{"y":{"field":"v","type":"quantitative","title":null,"scale":{"zero":false,"nice":false,"padding":7.55},"axis":{"minExtent":73,"maxExtent":73,"values":[0,5000,10000,15000,20000,25000,30000,35000,40000,45000],"labelExpr":"datum.value%10000!=0?'':format(datum.value,'d')","tickOpacity":{"condition":{"test":"datum.value%10000!=0","value":0},"value":1},"gridWidth":{"condition":{"test":"datum.value%10000!=0","value":0.7},"value":1.4}}}},
 "layer":[{"mark":"line","encoding":{"x":{"field":"d","type":"temporal","title":null,"scale":{"type":"utc","domain":[1655605440000,1678224960000]},"axis":{"orient":"bottom","values":[1656633600000,1659312000000,1661990400000,1664582400000,1667260800000,1669852800000,1672531200000,1675209600000,1677628800000],"labelExpr":"utcmonth(datum.value)%2==0?'':utcFormat(datum.value,'%b')+'−'+utcFormat(datum.value,'%y')","tickOpacity":{"condition":{"test":"utcmonth(datum.value)%2==0","value":0},"value":1},"gridWidth":{"condition":{"test":"utcmonth(datum.value)%2==0","value":0.7},"value":1.4},"labelPadding":{"condition":{"test":"utcmonth(datum.value)==9||utcmonth(datum.value)==1","value":27},"value":4.6}}}}},
  {"mark":"point","encoding":{"x":{"field":"d","type":"temporal","title":"Netherlands","scale":{"type":"utc","domain":[1655605440000,1678224960000]},"axis":{"orient":"top","grid":false}}}}],
 "resolve":{"axis":{"x":"independent"}}},
{"data":{"values":[{"d":"2022-07-01","v":4084},{"d":"2022-07-08","v":2521},{"d":"2022-07-15","v":2031},{"d":"2022-07-22","v":1701},{"d":"2022-07-29","v":1380},{"d":"2022-08-05","v":1211},{"d":"2022-08-12","v":1152},{"d":"2022-08-19","v":915},{"d":"2022-08-26","v":772},{"d":"2022-09-02","v":704},{"d":"2022-09-09","v":577},{"d":"2022-09-16","v":518},{"d":"2022-09-23","v":434},{"d":"2022-09-30","v":535},{"d":"2022-10-07","v":535},{"d":"2022-10-14","v":510},{"d":"2022-10-21","v":535},{"d":"2022-10-28","v":763},{"d":"2022-11-04","v":873},{"d":"2022-11-11","v":958},{"d":"2022-11-18","v":915},{"d":"2022-11-25","v":1017},{"d":"2022-12-02","v":1085},{"d":"2022-12-09","v":1254},{"d":"2022-12-16","v":1448},{"d":"2022-12-23","v":1651},{"d":"2022-12-30","v":1254},{"d":"2023-01-06","v":1144},{"d":"2023-01-13","v":721},{"d":"2023-01-20","v":451},{"d":"2023-01-27","v":366},{"d":"2023-02-03","v":324},{"d":"2023-02-10","v":256},{"d":"2023-02-17","v":324},{"d":"2023-02-24","v":282}]},
 "encoding":{"y":{"field":"v","type":"quantitative","title":null,"scale":{"zero":false,"nice":false,"padding":7.55},"axis":{"minExtent":63,"maxExtent":63,"values":[500,1000,1500,2000,2500,3000,3500,4000],"labelExpr":"datum.value%1000!=0?'':format(datum.value,'d')","tickOpacity":{"condition":{"test":"datum.value%1000!=0","value":0},"value":1},"gridWidth":{"condition":{"test":"datum.value%1000!=0","value":0.7},"value":1.4}}}},
 "layer":[{"mark":"line","encoding":{"x":{"field":"d","type":"temporal","title":null,"scale":{"type":"utc","domain":[1655605440000,1678224960000]},"axis":{"orient":"bottom","values":[1656633600000,1659312000000,1661990400000,1664582400000,1667260800000,1669852800000,1672531200000,1675209600000,1677628800000],"labelExpr":"utcmonth(datum.value)%2==0?'':utcFormat(datum.value,'%b')+'−'+utcFormat(datum.value,'%y')","tickOpacity":{"condition":{"test":"utcmonth(datum.value)%2==0","value":0},"value":1},"gridWidth":{"condition":{"test":"utcmonth(datum.value)%2==0","value":0.7},"value":1.4},"labelPadding":{"condition":{"test":"utcmonth(datum.value)==9||utcmonth(datum.value)==1","value":27},"value":4.6}}}}},
  {"mark":"point","encoding":{"x":{"field":"d","type":"temporal","title":"Norway","scale":{"type":"utc","domain":[1655605440000,1678224960000]},"axis":{"orient":"top","grid":false}}}}],
 "resolve":{"axis":{"x":"independent"}}},
{"data":{"values":[{"d":"2022-07-01","v":3270},{"d":"2022-07-08","v":5600},{"d":"2022-07-15","v":10000},{"d":"2022-07-22","v":16270},{"d":"2022-07-29","v":20600},{"d":"2022-08-05","v":24600},{"d":"2022-08-12","v":24930},{"d":"2022-08-19","v":24470},{"d":"2022-08-26","v":23670},{"d":"2022-09-02","v":20270},{"d":"2022-09-09","v":25070},{"d":"2022-09-16","v":32000},{"d":"2022-09-23","v":28670},{"d":"2022-09-30","v":24600},{"d":"2022-10-07","v":17600},{"d":"2022-10-14","v":11670},{"d":"2022-10-21","v":8130},{"d":"2022-10-28","v":5330},{"d":"2022-11-04","v":3470},{"d":"2022-11-11","v":2470},{"d":"2022-11-18","v":2470},{"d":"2022-11-25","v":2470},{"d":"2022-12-02","v":3130},{"d":"2022-12-09","v":3130},{"d":"2022-12-16","v":4130},{"d":"2022-12-23","v":3800},{"d":"2022-12-30","v":2930},{"d":"2023-01-06","v":2330},{"d":"2023-01-13","v":1930},{"d":"2023-01-20","v":2000},{"d":"2023-01-27","v":2930},{"d":"2023-02-03","v":4600},{"d":"2023-02-10","v":6470},{"d":"2023-02-17","v":10470},{"d":"2023-02-24","v":14800}]},
 "encoding":{"y":{"field":"v","type":"quantitative","title":null,"scale":{"zero":false,"nice":false,"padding":7.55},"axis":{"minExtent":74,"maxExtent":74,"values":[5000,10000,15000,20000,25000,30000],"labelExpr":"datum.value%10000!=0?'':format(datum.value,'d')","tickOpacity":{"condition":{"test":"datum.value%10000!=0","value":0},"value":1},"gridWidth":{"condition":{"test":"datum.value%10000!=0","value":0.7},"value":1.4}}}},
 "layer":[{"mark":"line","encoding":{"x":{"field":"d","type":"temporal","title":null,"scale":{"type":"utc","domain":[1655605440000,1678224960000]},"axis":{"orient":"bottom","values":[1656633600000,1659312000000,1661990400000,1664582400000,1667260800000,1669852800000,1672531200000,1675209600000,1677628800000],"labelExpr":"utcmonth(datum.value)%2==0?'':utcFormat(datum.value,'%b')+'−'+utcFormat(datum.value,'%y')","tickOpacity":{"condition":{"test":"utcmonth(datum.value)%2==0","value":0},"value":1},"gridWidth":{"condition":{"test":"utcmonth(datum.value)%2==0","value":0.7},"value":1.4},"labelPadding":{"condition":{"test":"utcmonth(datum.value)==9||utcmonth(datum.value)==1","value":27},"value":4.6}}}}},
  {"mark":"point","encoding":{"x":{"field":"d","type":"temporal","title":"Poland","scale":{"type":"utc","domain":[1655605440000,1678224960000]},"axis":{"orient":"top","grid":false}}}}],
 "resolve":{"axis":{"x":"independent"}}},
{"data":{"values":[{"d":"2022-07-01","v":50100},{"d":"2022-07-08","v":71000},{"d":"2022-07-15","v":31700},{"d":"2022-07-22","v":43200},{"d":"2022-07-29","v":23600},{"d":"2022-08-05","v":18900},{"d":"2022-08-12","v":16800},{"d":"2022-08-19","v":15200},{"d":"2022-08-26","v":17900},{"d":"2022-09-02","v":17300},{"d":"2022-09-09","v":14900},{"d":"2022-09-16","v":16000},{"d":"2022-09-23","v":19500},{"d":"2022-09-30","v":17900},{"d":"2022-10-07","v":7900},{"d":"2022-10-14","v":9000},{"d":"2022-10-21","v":0},{"d":"2022-10-28","v":9000},{"d":"2022-11-04","v":3000},{"d":"2022-11-11","v":10500},{"d":"2022-11-18","v":6100},{"d":"2022-11-25","v":5000},{"d":"2022-12-02","v":4200},{"d":"2022-12-09","v":3000},{"d":"2022-12-16","v":1600},{"d":"2022-12-23","v":2700},{"d":"2022-12-30","v":0},{"d":"2023-01-06","v":4200},{"d":"2023-01-13","v":0},{"d":"2023-01-20","v":4600},{"d":"2023-01-27","v":1100},{"d":"2023-02-03","v":1100},{"d":"2023-02-10","v":1100},{"d":"2023-02-17","v":1600},{"d":"2023-02-24","v":0}]},
 "encoding":{"y":{"field":"v","type":"quantitative","title":null,"scale":{"zero":false,"nice":false,"padding":7.55},"axis":{"minExtent":65,"maxExtent":65,"values":[0,10000,20000,30000,40000,50000,60000,70000],"labelExpr":"datum.value%20000!=0?'':format(datum.value,'d')","tickOpacity":{"condition":{"test":"datum.value%20000!=0","value":0},"value":1},"gridWidth":{"condition":{"test":"datum.value%20000!=0","value":0.7},"value":1.4}}}},
 "layer":[{"mark":"line","encoding":{"x":{"field":"d","type":"temporal","title":null,"scale":{"type":"utc","domain":[1655605440000,1678224960000]},"axis":{"orient":"bottom","values":[1656633600000,1659312000000,1661990400000,1664582400000,1667260800000,1669852800000,1672531200000,1675209600000,1677628800000],"labelExpr":"utcmonth(datum.value)%2==0?'':utcFormat(datum.value,'%b')+'−'+utcFormat(datum.value,'%y')","tickOpacity":{"condition":{"test":"utcmonth(datum.value)%2==0","value":0},"value":1},"gridWidth":{"condition":{"test":"utcmonth(datum.value)%2==0","value":0.7},"value":1.4},"labelPadding":{"condition":{"test":"utcmonth(datum.value)==9||utcmonth(datum.value)==1","value":27},"value":4.6}}}}},
  {"mark":"point","encoding":{"x":{"field":"d","type":"temporal","title":"Portugal","scale":{"type":"utc","domain":[1655605440000,1678224960000]},"axis":{"orient":"top","grid":false}}}}],
 "resolve":{"axis":{"x":"independent"}}},
{"data":{"values":[{"d":"2022-07-01","v":4000},{"d":"2022-07-08","v":7750},{"d":"2022-07-15","v":34600},{"d":"2022-07-22","v":40900},{"d":"2022-07-29","v":56900},{"d":"2022-08-05","v":53400},{"d":"2022-08-12","v":42100},{"d":"2022-08-19","v":30000},{"d":"2022-08-26","v":24000},{"d":"2022-09-02","v":17300},{"d":"2022-09-09","v":13100},{"d":"2022-09-16","v":13100},{"d":"2022-09-23","v":9400},{"d":"2022-09-30","v":7750},{"d":"2022-10-07","v":5600},{"d":"2022-10-14","v":4000},{"d":"2022-10-21","v":3100},{"d":"2022-10-28","v":2750},{"d":"2022-11-04","v":2500},{"d":"2022-11-11","v":2750},{"d":"2022-11-18","v":2500},{"d":"2022-11-25","v":250},{"d":"2022-12-02","v":2750},{"d":"2022-12-09","v":1900},{"d":"2022-12-16","v":2900},{"d":"2022-12-23","v":3400},{"d":"2022-12-30","v":3400},{"d":"2023-01-06","v":3500},{"d":"2023-01-13","v":3750},{"d":"2023-01-20","v":3400},{"d":"2023-01-27","v":2750},{"d":"2023-02-03","v":2500},{"d":"2023-02-10","v":2900},{"d":"2023-02-17","v":3400},{"d":"2023-02-24","v":4000}]},
 "encoding":{"y":{"field":"v","type":"quantitative","title":null,"scale":{"zero":false,"nice":false,"padding":7.55},"axis":{"minExtent":64,"maxExtent":64,"values":[0,10000,20000,30000,40000,50000],"labelExpr":"datum.value%20000!=0?'':format(datum.value,'d')","tickOpacity":{"condition":{"test":"datum.value%20000!=0","value":0},"value":1},"gridWidth":{"condition":{"test":"datum.value%20000!=0","value":0.7},"value":1.4}}}},
 "layer":[{"mark":"line","encoding":{"x":{"field":"d","type":"temporal","title":null,"scale":{"type":"utc","domain":[1655605440000,1678224960000]},"axis":{"orient":"bottom","values":[1656633600000,1659312000000,1661990400000,1664582400000,1667260800000,1669852800000,1672531200000,1675209600000,1677628800000],"labelExpr":"utcmonth(datum.value)%2==0?'':utcFormat(datum.value,'%b')+'−'+utcFormat(datum.value,'%y')","tickOpacity":{"condition":{"test":"utcmonth(datum.value)%2==0","value":0},"value":1},"gridWidth":{"condition":{"test":"utcmonth(datum.value)%2==0","value":0.7},"value":1.4},"labelPadding":{"condition":{"test":"utcmonth(datum.value)==9||utcmonth(datum.value)==1","value":27},"value":4.6}}}}},
  {"mark":"point","encoding":{"x":{"field":"d","type":"temporal","title":"Romania","scale":{"type":"utc","domain":[1655605440000,1678224960000]},"axis":{"orient":"top","grid":false}}}}],
 "resolve":{"axis":{"x":"independent"}}},
{"data":{"values":[{"d":"2022-07-01","v":2480},{"d":"2022-07-08","v":6200},{"d":"2022-07-15","v":6590},{"d":"2022-07-22","v":8290},{"d":"2022-07-29","v":8530},{"d":"2022-08-05","v":150},{"d":"2022-08-12","v":150},{"d":"2022-08-19","v":150},{"d":"2022-08-26","v":150},{"d":"2022-09-02","v":150},{"d":"2022-09-09","v":150},{"d":"2022-09-16","v":35000},{"d":"2022-09-23","v":4960},{"d":"2022-09-30","v":5580},{"d":"2022-10-07","v":5810},{"d":"2022-10-14","v":4800},{"d":"2022-10-21","v":3640},{"d":"2022-10-28","v":2710},{"d":"2022-11-04","v":2090},{"d":"2022-11-11","v":1700},{"d":"2022-11-18","v":1320},{"d":"2022-11-25","v":1320},{"d":"2022-12-02","v":1470},{"d":"2022-12-09","v":1550},{"d":"2022-12-16","v":1550},{"d":"2022-12-23","v":1320},{"d":"2022-12-30","v":1090},{"d":"2023-01-06","v":780},{"d":"2023-01-13","v":700},{"d":"2023-01-20","v":620},{"d":"2023-01-27","v":780},{"d":"2023-02-03","v":930},{"d":"2023-02-10","v":1160},{"d":"2023-02-17","v":1320},{"d":"2023-02-24","v":1320}]},
 "encoding":{"y":{"field":"v","type":"quantitative","title":null,"scale":{"zero":false,"nice":false,"padding":7.55},"axis":{"minExtent":73,"maxExtent":73,"values":[0,5000,10000,15000,20000,25000,30000,35000],"labelExpr":"datum.value%10000!=0?'':format(datum.value,'d')","tickOpacity":{"condition":{"test":"datum.value%10000!=0","value":0},"value":1},"gridWidth":{"condition":{"test":"datum.value%10000!=0","value":0.7},"value":1.4}}}},
 "layer":[{"mark":"line","encoding":{"x":{"field":"d","type":"temporal","title":null,"scale":{"type":"utc","domain":[1655605440000,1678224960000]},"axis":{"orient":"bottom","values":[1656633600000,1659312000000,1661990400000,1664582400000,1667260800000,1669852800000,1672531200000,1675209600000,1677628800000],"labelExpr":"utcmonth(datum.value)%2==0?'':utcFormat(datum.value,'%b')+'−'+utcFormat(datum.value,'%y')","tickOpacity":{"condition":{"test":"utcmonth(datum.value)%2==0","value":0},"value":1},"gridWidth":{"condition":{"test":"utcmonth(datum.value)%2==0","value":0.7},"value":1.4},"labelPadding":{"condition":{"test":"utcmonth(datum.value)==9||utcmonth(datum.value)==1","value":27},"value":4.6}}}}},
  {"mark":"point","encoding":{"x":{"field":"d","type":"temporal","title":"Slovakia","scale":{"type":"utc","domain":[1655605440000,1678224960000]},"axis":{"orient":"top","grid":false}}}}],
 "resolve":{"axis":{"x":"independent"}}},
{"data":{"values":[{"d":"2022-07-01","v":5400},{"d":"2022-07-08","v":9540},{"d":"2022-07-15","v":10390},{"d":"2022-07-22","v":11140},{"d":"2022-07-29","v":11600},{"d":"2022-08-05","v":10450},{"d":"2022-08-12","v":9870},{"d":"2022-08-19","v":8990},{"d":"2022-08-26","v":9960},{"d":"2022-09-02","v":8890},{"d":"2022-09-09","v":11110},{"d":"2022-09-16","v":14270},{"d":"2022-09-23","v":13880},{"d":"2022-09-30","v":15670},{"d":"2022-10-07","v":15830},{"d":"2022-10-14","v":13390},{"d":"2022-10-21","v":10030},{"d":"2022-10-28","v":7520},{"d":"2022-11-04","v":4750},{"d":"2022-11-11","v":4490},{"d":"2022-11-18","v":5170},{"d":"2022-11-25","v":6540},{"d":"2022-12-02","v":8990},{"d":"2022-12-09","v":11920},{"d":"2022-12-16","v":12800},{"d":"2022-12-23","v":11660},{"d":"2022-12-30","v":7940},{"d":"2023-01-06","v":6050},{"d":"2023-01-13","v":3840},{"d":"2023-01-20","v":2140},{"d":"2023-01-27","v":1650},{"d":"2023-02-03","v":1490},{"d":"2023-02-10","v":1160},{"d":"2023-02-17","v":1820},{"d":"2023-02-24","v":1980}]},
 "encoding":{"y":{"field":"v","type":"quantitative","title":null,"scale":{"zero":false,"nice":false,"padding":7.55},"axis":{"minExtent":63,"maxExtent":63,"values":[2000,4000,6000,8000,10000,12000,14000,16000],"labelExpr":"datum.value%4000!=0?'':format(datum.value,'d')","tickOpacity":{"condition":{"test":"datum.value%4000!=0","value":0},"value":1},"gridWidth":{"condition":{"test":"datum.value%4000!=0","value":0.7},"value":1.4}}}},
 "layer":[{"mark":"line","encoding":{"x":{"field":"d","type":"temporal","title":null,"scale":{"type":"utc","domain":[1655605440000,1678224960000]},"axis":{"orient":"bottom","values":[1656633600000,1659312000000,1661990400000,1664582400000,1667260800000,1669852800000,1672531200000,1675209600000,1677628800000],"labelExpr":"utcmonth(datum.value)%2==0?'':utcFormat(datum.value,'%b')+'−'+utcFormat(datum.value,'%y')","tickOpacity":{"condition":{"test":"utcmonth(datum.value)%2==0","value":0},"value":1},"gridWidth":{"condition":{"test":"utcmonth(datum.value)%2==0","value":0.7},"value":1.4},"labelPadding":{"condition":{"test":"utcmonth(datum.value)==9||utcmonth(datum.value)==1","value":27},"value":4.6}}}}},
  {"mark":"point","encoding":{"x":{"field":"d","type":"temporal","title":"Slovenia","scale":{"type":"utc","domain":[1655605440000,1678224960000]},"axis":{"orient":"top","grid":false}}}}],
 "resolve":{"axis":{"x":"independent"}}},
{"data":{"values":[{"d":"2022-07-01","v":136400},{"d":"2022-07-08","v":155100},{"d":"2022-07-15","v":117300},{"d":"2022-07-22","v":115700},{"d":"2022-07-29","v":22000},{"d":"2022-08-05","v":40100},{"d":"2022-08-12","v":28300},{"d":"2022-08-19","v":21400},{"d":"2022-08-26","v":19400},{"d":"2022-09-02","v":20400},{"d":"2022-09-09","v":15400},{"d":"2022-09-16","v":17100},{"d":"2022-09-23","v":18700},{"d":"2022-09-30","v":19400},{"d":"2022-10-07","v":19400},{"d":"2022-10-14","v":21400},{"d":"2022-10-21","v":24300},{"d":"2022-10-28","v":25300},{"d":"2022-11-04","v":18700},{"d":"2022-11-11","v":22700},{"d":"2022-11-18","v":22700},{"d":"2022-11-25","v":21400},{"d":"2022-12-02","v":19700},{"d":"2022-12-09","v":18700},{"d":"2022-12-16","v":19400},{"d":"2022-12-23","v":19400},{"d":"2022-12-30","v":14800},{"d":"2023-01-06","v":9900},{"d":"2023-01-13","v":18100},{"d":"2023-01-20","v":12200},{"d":"2023-01-27","v":9500},{"d":"2023-02-03","v":9500},{"d":"2023-02-10","v":8900},{"d":"2023-02-17","v":6500},{"d":"2023-02-24","v":6500}]},
 "encoding":{"y":{"field":"v","type":"quantitative","title":null,"scale":{"zero":false,"nice":false,"padding":7.55},"axis":{"minExtent":74,"maxExtent":74,"values":[0,20000,40000,60000,80000,100000,120000,140000,160000],"labelExpr":"datum.value%40000!=0?'':format(datum.value,'d')","tickOpacity":{"condition":{"test":"datum.value%40000!=0","value":0},"value":1},"gridWidth":{"condition":{"test":"datum.value%40000!=0","value":0.7},"value":1.4}}}},
 "layer":[{"mark":"line","encoding":{"x":{"field":"d","type":"temporal","title":null,"scale":{"type":"utc","domain":[1655605440000,1678224960000]},"axis":{"orient":"bottom","values":[1656633600000,1659312000000,1661990400000,1664582400000,1667260800000,1669852800000,1672531200000,1675209600000,1677628800000],"labelExpr":"utcmonth(datum.value)%2==0?'':utcFormat(datum.value,'%b')+'−'+utcFormat(datum.value,'%y')","tickOpacity":{"condition":{"test":"utcmonth(datum.value)%2==0","value":0},"value":1},"gridWidth":{"condition":{"test":"utcmonth(datum.value)%2==0","value":0.7},"value":1.4},"labelPadding":{"condition":{"test":"utcmonth(datum.value)==9||utcmonth(datum.value)==1","value":27},"value":4.6}}}}},
  {"mark":"point","encoding":{"x":{"field":"d","type":"temporal","title":"Spain","scale":{"type":"utc","domain":[1655605440000,1678224960000]},"axis":{"orient":"top","grid":false}}}}],
 "resolve":{"axis":{"x":"independent"}}},
{"data":{"values":[{"d":"2022-07-01","v":3370},{"d":"2022-07-08","v":4170},{"d":"2022-07-15","v":4710},{"d":"2022-07-22","v":5860},{"d":"2022-07-29","v":5800},{"d":"2022-08-05","v":6000},{"d":"2022-08-12","v":6370},{"d":"2022-08-19","v":6940},{"d":"2022-08-26","v":5510},{"d":"2022-09-02","v":4740},{"d":"2022-09-09","v":4370},{"d":"2022-09-16","v":5000},{"d":"2022-09-23","v":4860},{"d":"2022-09-30","v":5090},{"d":"2022-10-07","v":12710},{"d":"2022-10-14","v":3660},{"d":"2022-10-21","v":3430},{"d":"2022-10-28","v":3290},{"d":"2022-11-04","v":3510},{"d":"2022-11-11","v":3710},{"d":"2022-11-18","v":4140},{"d":"2022-11-25","v":3800},{"d":"2022-12-02","v":5370},{"d":"2022-12-09","v":8290},{"d":"2022-12-16","v":11370},{"d":"2022-12-23","v":13510},{"d":"2022-12-30","v":9660},{"d":"2023-01-06","v":8510},{"d":"2023-01-13","v":4460},{"d":"2023-01-20","v":2660},{"d":"2023-01-27","v":2940},{"d":"2023-02-03","v":1430},{"d":"2023-02-10","v":1230},{"d":"2023-02-17","v":1000},{"d":"2023-02-24","v":660}]},
 "encoding":{"y":{"field":"v","type":"quantitative","title":null,"scale":{"zero":false,"nice":false,"padding":7.55},"axis":{"minExtent":65,"maxExtent":65,"values":[2500,5000,7500,10000,12500],"labelExpr":"datum.value%5000!=0?'':format(datum.value,'d')","tickOpacity":{"condition":{"test":"datum.value%5000!=0","value":0},"value":1},"gridWidth":{"condition":{"test":"datum.value%5000!=0","value":0.7},"value":1.4}}}},
 "layer":[{"mark":"line","encoding":{"x":{"field":"d","type":"temporal","title":null,"scale":{"type":"utc","domain":[1655605440000,1678224960000]},"axis":{"orient":"bottom","values":[1656633600000,1659312000000,1661990400000,1664582400000,1667260800000,1669852800000,1672531200000,1675209600000,1677628800000],"labelExpr":"utcmonth(datum.value)%2==0?'':utcFormat(datum.value,'%b')+'−'+utcFormat(datum.value,'%y')","tickOpacity":{"condition":{"test":"utcmonth(datum.value)%2==0","value":0},"value":1},"gridWidth":{"condition":{"test":"utcmonth(datum.value)%2==0","value":0.7},"value":1.4},"labelPadding":{"condition":{"test":"utcmonth(datum.value)==9||utcmonth(datum.value)==1","value":27},"value":4.6}}}}},
  {"mark":"point","encoding":{"x":{"field":"d","type":"temporal","title":"Sweden","scale":{"type":"utc","domain":[1655605440000,1678224960000]},"axis":{"orient":"top","grid":false}}}}],
 "resolve":{"axis":{"x":"independent"}}},
{"data":{"values":[{"d":"2022-07-01","v":33100},{"d":"2022-07-08","v":46000},{"d":"2022-07-15","v":56250},{"d":"2022-07-22","v":50000},{"d":"2022-07-29","v":37900},{"d":"2022-08-05","v":23500},{"d":"2022-08-12","v":22100},{"d":"2022-08-19","v":18100},{"d":"2022-08-26","v":17250},{"d":"2022-09-02","v":16250},{"d":"2022-09-09","v":15000},{"d":"2022-09-16","v":14400},{"d":"2022-09-23","v":13750},{"d":"2022-09-30","v":16900},{"d":"2022-10-07","v":25250},{"d":"2022-10-14","v":35600},{"d":"2022-10-21","v":37250},{"d":"2022-10-28","v":30400},{"d":"2022-11-04","v":24000},{"d":"2022-11-11","v":21250},{"d":"2022-11-18","v":21000},{"d":"2022-11-25","v":21250},{"d":"2022-12-02","v":19600},{"d":"2022-12-09","v":19000},{"d":"2022-12-16","v":16600},{"d":"2022-12-23","v":14000},{"d":"2022-12-30","v":13100},{"d":"2023-01-06","v":4100},{"d":"2023-01-13","v":1500},{"d":"2023-01-20","v":1250},{"d":"2023-01-27","v":0},{"d":"2023-02-03","v":2250},{"d":"2023-02-10","v":1000},{"d":"2023-02-17","v":1000},{"d":"2023-02-24","v":1250}]},
 "encoding":{"y":{"field":"v","type":"quantitative","title":null,"scale":{"zero":false,"nice":false,"padding":7.55},"axis":{"minExtent":64,"maxExtent":64,"values":[0,10000,20000,30000,40000,50000],"labelExpr":"datum.value%20000!=0?'':format(datum.value,'d')","tickOpacity":{"condition":{"test":"datum.value%20000!=0","value":0},"value":1},"gridWidth":{"condition":{"test":"datum.value%20000!=0","value":0.7},"value":1.4}}}},
 "layer":[{"mark":"line","encoding":{"x":{"field":"d","type":"temporal","title":null,"scale":{"type":"utc","domain":[1655605440000,1678224960000]},"axis":{"orient":"bottom","values":[1656633600000,1659312000000,1661990400000,1664582400000,1667260800000,1669852800000,1672531200000,1675209600000,1677628800000],"labelExpr":"utcmonth(datum.value)%2==0?'':utcFormat(datum.value,'%b')+'−'+utcFormat(datum.value,'%y')","tickOpacity":{"condition":{"test":"utcmonth(datum.value)%2==0","value":0},"value":1},"gridWidth":{"condition":{"test":"utcmonth(datum.value)%2==0","value":0.7},"value":1.4},"labelPadding":{"condition":{"test":"utcmonth(datum.value)==9||utcmonth(datum.value)==1","value":27},"value":4.6}}}}},
  {"mark":"point","encoding":{"x":{"field":"d","type":"temporal","title":"Switzerland","scale":{"type":"utc","domain":[1655605440000,1678224960000]},"axis":{"orient":"top","grid":false}}}}],
 "resolve":{"axis":{"x":"independent"}}},
{"data":{"values":[{"d":"2022-07-01","v":149800},{"d":"2022-07-08","v":143800},{"d":"2022-07-15","v":191500},{"d":"2022-07-22","v":138300},{"d":"2022-07-29","v":91500},{"d":"2022-08-05","v":63800},{"d":"2022-08-12","v":52300},{"d":"2022-08-19","v":40400},{"d":"2022-08-26","v":32800},{"d":"2022-09-02","v":29800},{"d":"2022-09-09","v":32800},{"d":"2022-09-16","v":31100},{"d":"2022-09-23","v":37000},{"d":"2022-09-30","v":51100},{"d":"2022-10-07","v":63800},{"d":"2022-10-14","v":63800},{"d":"2022-10-21","v":56600},{"d":"2022-10-28","v":43800},{"d":"2022-11-04","v":31900},{"d":"2022-11-11","v":23400},{"d":"2022-11-18","v":23400},{"d":"2022-11-25","v":21300},{"d":"2022-12-02","v":27700},{"d":"2022-12-09","v":29800},{"d":"2022-12-16","v":35300},{"d":"2022-12-23","v":46000},{"d":"2022-12-30","v":0},{"d":"2023-01-06","v":75300},{"d":"2023-01-13","v":34000},{"d":"2023-01-20","v":14900},{"d":"2023-01-27","v":14900},{"d":"2023-02-03","v":20000},{"d":"2023-02-10","v":22100},{"d":"2023-02-17","v":25500},{"d":"2023-02-24","v":28500}]},
 "encoding":{"y":{"field":"v","type":"quantitative","title":null,"scale":{"zero":false,"nice":false,"padding":7.55},"axis":{"minExtent":73,"maxExtent":73,"values":[0,25000,50000,75000,100000,125000,150000,175000,200000],"labelExpr":"datum.value%50000!=0?'':format(datum.value,'d')","tickOpacity":{"condition":{"test":"datum.value%50000!=0","value":0},"value":1},"gridWidth":{"condition":{"test":"datum.value%50000!=0","value":0.7},"value":1.4}}}},
 "layer":[{"mark":"line","encoding":{"x":{"field":"d","type":"temporal","title":null,"scale":{"type":"utc","domain":[1655605440000,1678224960000]},"axis":{"orient":"bottom","values":[1656633600000,1659312000000,1661990400000,1664582400000,1667260800000,1669852800000,1672531200000,1675209600000,1677628800000],"labelExpr":"utcmonth(datum.value)%2==0?'':utcFormat(datum.value,'%b')+'−'+utcFormat(datum.value,'%y')","tickOpacity":{"condition":{"test":"utcmonth(datum.value)%2==0","value":0},"value":1},"gridWidth":{"condition":{"test":"utcmonth(datum.value)%2==0","value":0.7},"value":1.4},"labelPadding":{"condition":{"test":"utcmonth(datum.value)==9||utcmonth(datum.value)==1","value":27},"value":4.6}}}}},
  {"mark":"point","encoding":{"x":{"field":"d","type":"temporal","title":"United Kingdom","scale":{"type":"utc","domain":[1655605440000,1678224960000]},"axis":{"orient":"top","grid":false}}}}],
 "resolve":{"axis":{"x":"independent"}}}
]
}
